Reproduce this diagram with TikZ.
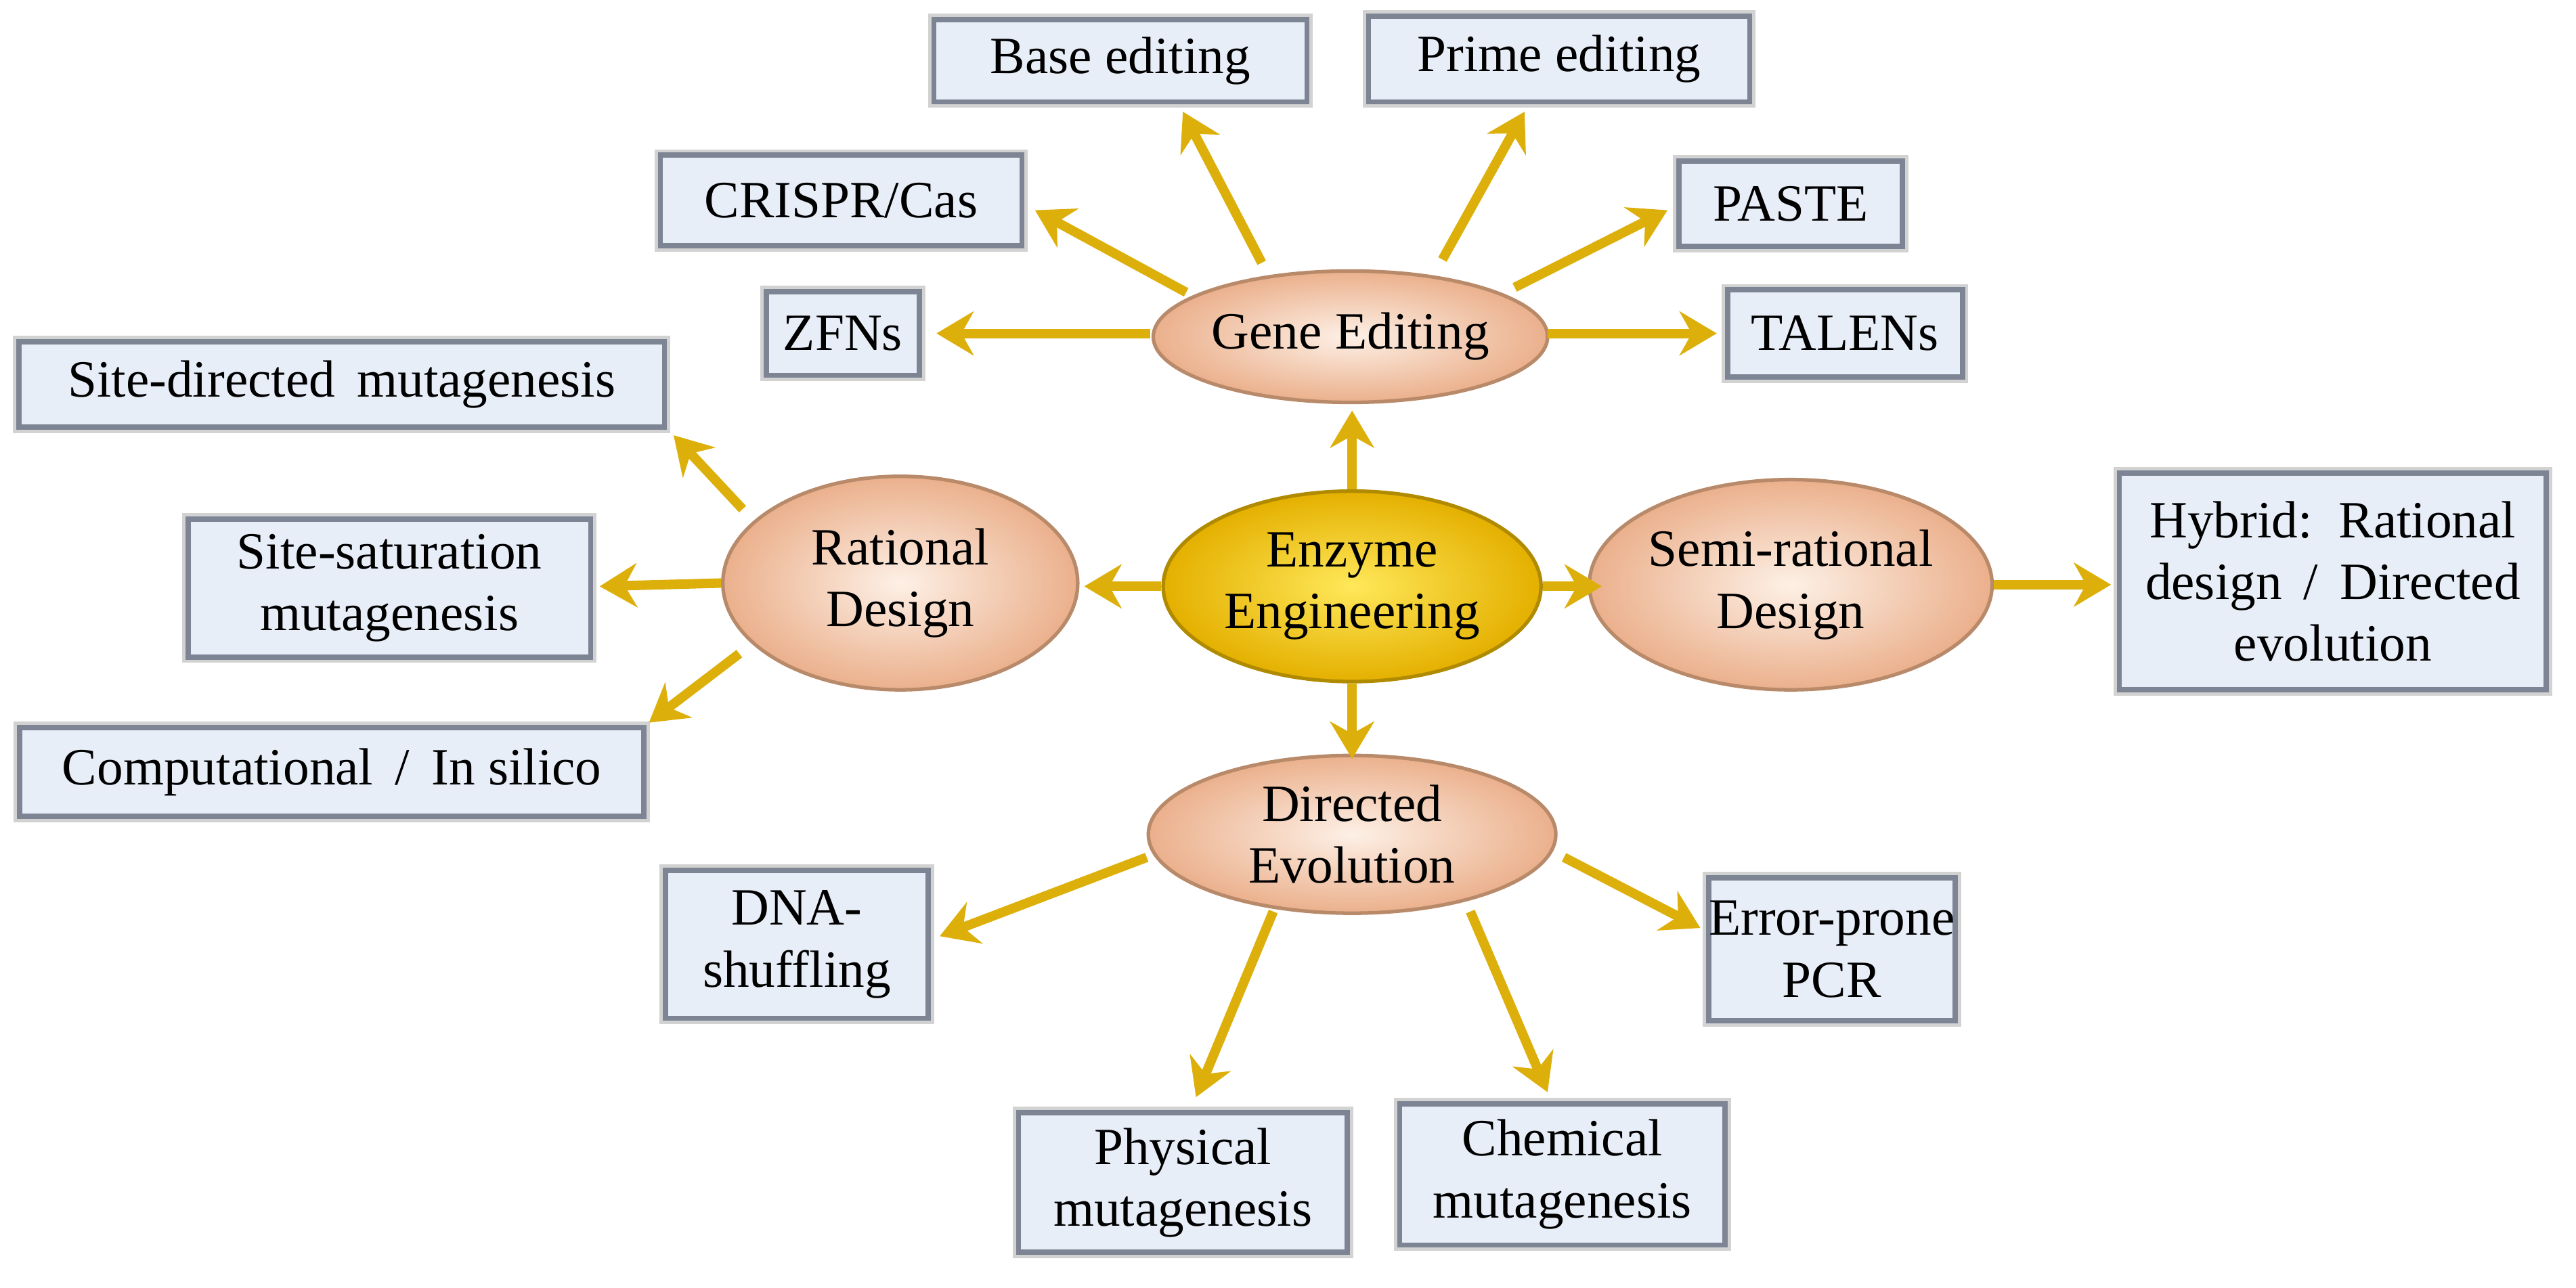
\documentclass[tikz,border=0pt]{standalone}
\usepackage{fontspec}
\setmainfont{Liberation Serif}
\usetikzlibrary{shapes.geometric,arrows.meta,shadows}
\def\U{0.02427cm}
\definecolor{boxfill}{HTML}{E8EEF8}
\definecolor{boxedge}{HTML}{7D8594}
\definecolor{arr}{HTML}{DDAF0A}
\definecolor{pin}{HTML}{FDF0E6}
\definecolor{pout}{HTML}{EBB08C}
\definecolor{pedge}{HTML}{B88A6A}
\definecolor{gin}{HTML}{FFE85A}
\definecolor{gout}{HTML}{E4B000}
\definecolor{gedge}{HTML}{B08A00}
\tikzset{
  bx/.style={draw=boxedge, line width=2.2pt, fill=boxfill, align=center,
    font=\fontsize{22}{26}\selectfont, inner sep=0pt,
    preaction={draw=gray!35, line width=5pt}},
  el/.style={ellipse, draw=#1, line width=1.5pt, align=center, inner sep=0pt,
    font=\fontsize{22}{26}\selectfont},
  peach/.style={el=pedge, inner color=pin, outer color=pout},
  gold/.style={el=gedge, inner color=gin, outer color=gout},
  ar/.style={draw=arr, line width=4pt, -{Stealth[length=0.55cm,width=0.65cm,inset=0.18cm]}}
}
\begin{document}
\begin{tikzpicture}[x=0.02427cm,y=-0.02427cm]
\useasboundingbox (0,0) rectangle (1568,784);
% boxes
\node[bx,minimum width=227*\U,minimum height=50*\U] (base) at (682,37) {Base editing};
\node[bx,minimum width=232*\U,minimum height=52*\U] (prime) at (949,36) {Prime editing};
\node[bx,minimum width=220*\U,minimum height=55*\U] (crispr) at (512,122) {CRISPR/Cas};
\node[bx,minimum width=136*\U,minimum height=52*\U] (paste) at (1090,124) {PASTE};
\node[bx,minimum width=93*\U,minimum height=51*\U] (zfn) at (513,203) {ZFNs};
\node[bx,minimum width=143*\U,minimum height=53*\U] (talen) at (1123,203) {TALENs};
\node[bx,minimum width=393*\U,minimum height=52*\U] (sdm) at (208,234) {Site-directed\, mutagenesis};
\node[bx,minimum width=245*\U,minimum height=84*\U] (ssm) at (237,358) {Site-saturation\\mutagenesis};
\node[bx,minimum width=380*\U,minimum height=54*\U] (comp) at (202,470) {Computational\, / \,In silico};
\node[bx,minimum width=260*\U,minimum height=132*\U] (hyb) at (1420,354) {Hybrid:\, Rational\\design\, / \,Directed\\evolution};
\node[bx,minimum width=160*\U,minimum height=90*\U] (dna) at (485,575) {DNA-\\shuffling};
\node[bx,minimum width=150*\U,minimum height=87*\U] (epp) at (1115,578) {Error-prone\\PCR};
\node[bx,minimum width=200*\U,minimum height=85*\U] (phys) at (720,720) {Physical\\mutagenesis};
\node[bx,minimum width=198*\U,minimum height=86*\U] (chem) at (951,715) {Chemical\\mutagenesis};
% ellipses
\node[peach,minimum width=240*\U,minimum height=80*\U] (ge) at (822,205) {Gene Editing};
\node[peach,minimum width=216*\U,minimum height=130*\U] (rd) at (548,355) {Rational\\Design};
\node[gold,minimum width=230*\U,minimum height=116*\U] (ee) at (823,357) {Enzyme\\Engineering};
\node[peach,minimum width=220*\U,minimum height=128*\U] (sr) at (1090,356) {Semi-rational\\Design};
\node[peach,minimum width=248*\U,minimum height=96*\U] (de) at (823,508) {Directed\\Evolution};
% arrow tips
\coordinate (tzfn) at (570,203);
\coordinate (tcr) at (630,128);
\coordinate (tba) at (720,68);
\coordinate (tpr) at (928,68);
\coordinate (tpa) at (1015,128);
\coordinate (tta) at (1045,203);
\coordinate (tge) at (823,250);
\coordinate (tde) at (823,462);
\coordinate (trd) at (660,357);
\coordinate (tsr) at (975,357);
\coordinate (thy) at (1285,356);
\coordinate (tsd) at (410,265);
\coordinate (tss) at (365,357);
\coordinate (tco) at (395,440);
\coordinate (tdn) at (572,570);
\coordinate (tph) at (728,668);
\coordinate (tch) at (942,665);
\coordinate (tep) at (1035,565);
% arrows
\draw[ar] (700,203) -- (tzfn);
\draw[ar] (722,178) -- (tcr);
\draw[ar] (768,160) -- (tba);
\draw[ar] (878,158) -- (tpr);
\draw[ar] (922,175) -- (tpa);
\draw[ar] (942,203) -- (tta);
\draw[ar] (ee.north) -- (tge);
\draw[ar] (ee.south) -- (tde);
\draw[ar] (ee.west) -- (trd);
\draw[ar] (ee.east) -- (tsr);
\draw[ar] (sr.east) -- (thy);
\draw[ar] (452,310) -- (tsd);
\draw[ar] (rd.west) -- (tss);
\draw[ar] (450,398) -- (tco);
\draw[ar] (698,522) -- (tdn);
\draw[ar] (775,555) -- (tph);
\draw[ar] (895,555) -- (tch);
\draw[ar] (952,522) -- (tep);
\end{tikzpicture}
\end{document}
